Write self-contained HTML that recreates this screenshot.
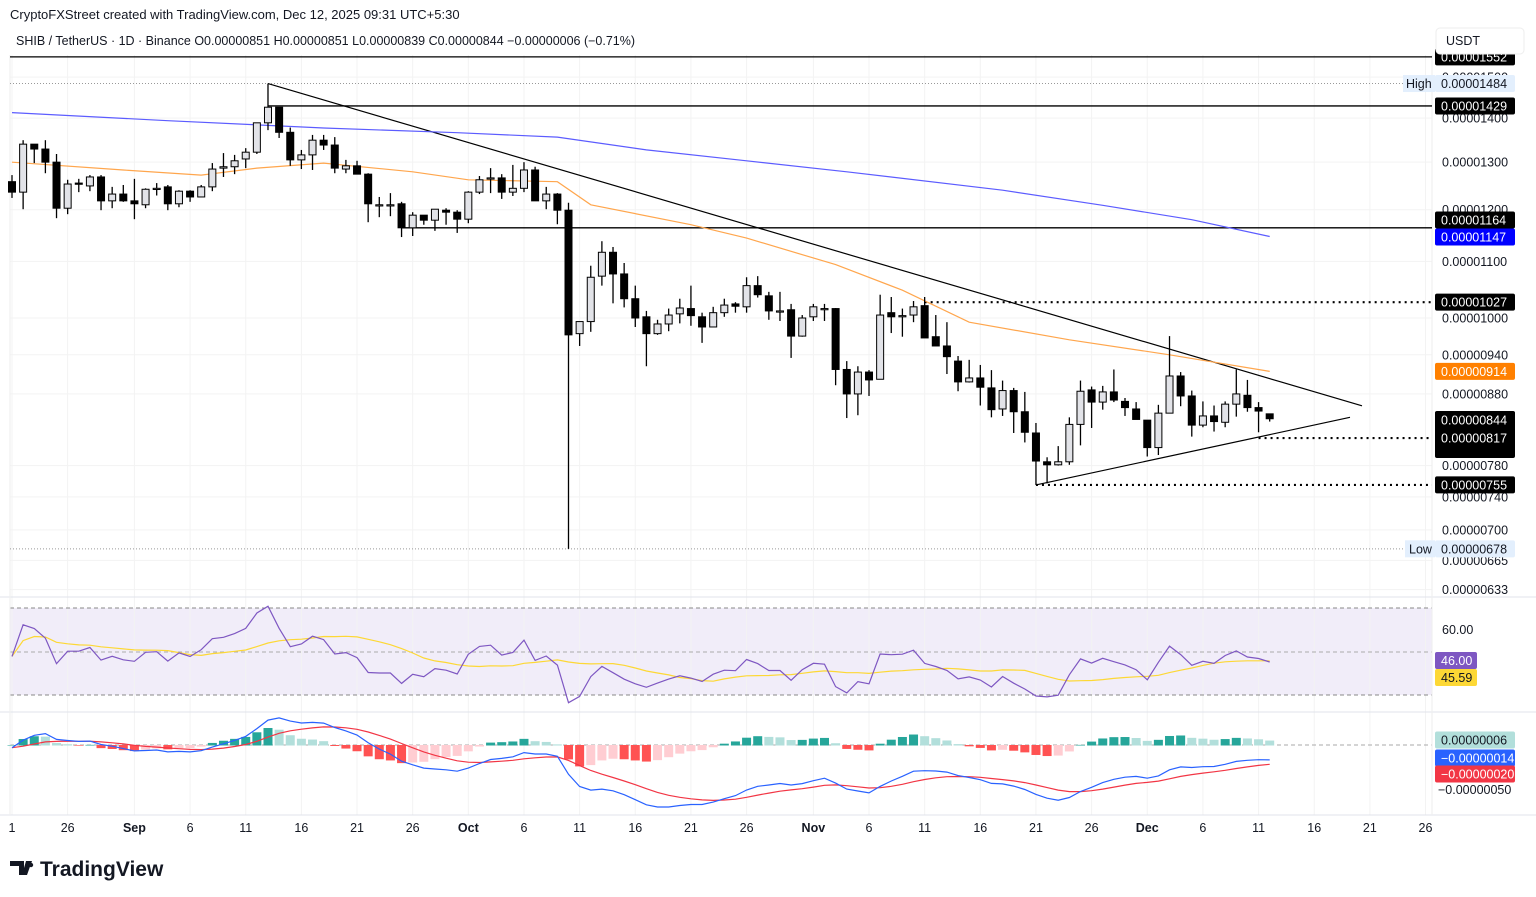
<!DOCTYPE html>
<html><head><meta charset="utf-8"><style>
html,body{margin:0;padding:0;background:#fff;width:1536px;height:897px;overflow:hidden;font-family:"Liberation Sans",sans-serif}
svg text{font-family:"Liberation Sans",sans-serif}
</style></head><body>
<svg id="chart" width="1536" height="897" xmlns="http://www.w3.org/2000/svg">
<text x="10" y="19" font-size="13" fill="#131722">CryptoFXStreet created with TradingView.com, Dec 12, 2025 09:31 UTC+5:30</text>
<text x="16" y="45" font-size="12.5" fill="#131722">SHIB / TetherUS · 1D · Binance  O<tspan>0.00000851</tspan> H<tspan>0.00000851</tspan> L<tspan>0.00000839</tspan> C<tspan>0.00000844</tspan> <tspan>−0.00000006 (−0.71%)</tspan></text>
<g id="grid"></g><g id="layers"></g><g id="marks"></g><g id="axis"></g>
<rect x="1436" y="28" width="88" height="26" rx="4" fill="#fff" stroke="#eee"/>
<text x="1446" y="45" font-size="12.5" fill="#131722">USDT</text>
<g>
<path d="M10 861h14v14h-5v-9h-9z M26 861h6l-5 14h-5z" fill="#131722"/>
<circle cx="31" cy="865" r="2.2" fill="#131722"/>
<text x="40" y="876" font-size="21" font-weight="bold" fill="#131722">TradingView</text>
</g>
</svg>
<script>
// price data in units of 1e-8 USDT, daily from Aug 21 2025
const opens=[1258,1236,1340,1329,1300,1203,1255,1249,1268,1218,1232,1218,1210,1244,1247,1212,1238,1226,1247,1287,1290,1307,1322,1389,1426,1367,1305,1316,1349,1338,1285,1292,1274,1210,1210,1212,1164,1189,1179,1199,1195,1181,1236,1266,1266,1236,1244,1283,1218,1232,1199,974,994,1073,1117,1077,1033,1002,974,990,1007,1016,1002,985,1009,1024,1019,1056,1038,1012,1014,970,1002,1016,1016,917,880,913,902,1009,1004,1005,1021,969,954,930,898,904,889,858,885,854,824,785,781,785,836,886,868,883,869,858,842,804,852,907,877,835,848,839,865,878,860,851];
const highs=[1272,1349,1340,1349,1318,1262,1264,1272,1272,1247,1251,1264,1244,1255,1251,1240,1240,1251,1298,1320,1316,1331,1389,1484,1426,1378,1327,1361,1361,1356,1305,1303,1276,1226,1234,1216,1195,1189,1201,1203,1199,1238,1270,1287,1274,1294,1300,1290,1247,1234,1214,994,1092,1138,1127,1097,1056,1012,997,1016,1033,1056,1009,1019,1033,1027,1071,1073,1045,1045,1024,1005,1024,1024,1017,930,922,916,1040,1036,1016,1029,1036,1005,993,938,932,924,916,900,889,883,838,791,806,846,900,891,892,917,874,868,842,864,970,913,885,869,863,869,917,901,868,851];
const lows=[1224,1201,1298,1276,1183,1191,1236,1238,1199,1203,1216,1181,1203,1229,1199,1205,1216,1226,1238,1268,1274,1287,1318,1372,1354,1292,1285,1283,1327,1276,1276,1274,1175,1185,1187,1146,1148,1170,1158,1170,1154,1173,1232,1234,1222,1228,1236,1218,1201,1171,678,954,977,1056,1025,1018,985,922,972,978,991,987,959,985,1002,1009,1009,1035,997,995,935,969,995,995,893,845,849,877,902,975,969,993,967,954,910,884,897,863,846,848,824,811,755,757,780,781,807,831,857,868,848,843,792,794,852,862,819,832,826,832,847,854,825,840];
const closes=[1236,1340,1329,1300,1203,1253,1253,1268,1218,1232,1218,1212,1242,1244,1212,1238,1226,1247,1285,1290,1303,1322,1389,1426,1367,1305,1316,1349,1338,1287,1292,1274,1212,1210,1210,1164,1189,1179,1201,1195,1181,1236,1262,1266,1236,1244,1283,1218,1232,1199,972,994,1071,1117,1077,1033,1000,974,990,1005,1017,1004,985,1009,1022,1020,1056,1040,1012,1012,970,1000,1019,1016,917,880,913,901,1005,1002,1004,1019,967,954,937,898,904,890,857,885,854,825,786,781,785,836,884,868,883,871,860,843,804,852,907,877,835,848,840,865,880,860,855,844];
// moving averages (sampled at candle index)
const maFastIdx=[0,10,17,22,28,36,41,49,52,61,66,74,80,86,95,104,113];
const maFastVal=[1300,1283,1272,1287,1298,1279,1262,1258,1210,1170,1144,1094,1048,993,964,940,914];
const maSlowIdx=[0,14,28,40,49,57,66,75,89,98,106,113];
const maSlowVal=[1413,1394,1377,1366,1356,1327,1303,1279,1240,1209,1180,1147];
const priceTicks=[1500,1400,1300,1200,1100,1000,940,880,780,740,700,665,633];
const dateLabels=["1","26","Sep","6","11","16","21","26","Oct","6","11","16","21","26","Nov","6","11","16","21","26","Dec","6","11","16","21","26"];
const dateIdx=[0,5,11,16,21,26,31,36,41,46,51,56,61,66,72,77,82,87,92,97,102,107,112,117,122,127];

const NS="http://www.w3.org/2000/svg";
const X=i=>12+11.13*i;
const Y=p=>318-594*Math.log(p/1000);
const RY=v=>652-(v-50)*2.18;
const MY=v=>745-v*0.9;
function mk(parent,tag,attrs){const e=document.createElementNS(NS,tag);for(const k in attrs)e.setAttribute(k,attrs[k]);document.getElementById(parent).appendChild(e);return e;}

// grid + panes
mk('grid','rect',{x:10,y:608,width:1422,height:87,fill:'#f1edf9'});
priceTicks.forEach(p=>{mk('grid','line',{x1:10,x2:1432,y1:Y(p),y2:Y(p),stroke:'#f3f3f3'});});
dateIdx.forEach(i=>{if(X(i)<1432)mk('grid','line',{x1:X(i),x2:X(i),y1:55,y2:815,stroke:'#f3f3f3'});});
[[608,'#888'],[652,'#aaa'],[695,'#888']].forEach(d=>mk('grid','line',{x1:10,x2:1432,y1:d[0],y2:d[0],stroke:d[1],'stroke-dasharray':'4,3'}));
mk('grid','line',{x1:10,x2:1432,y1:745,y2:745,stroke:'#aaa','stroke-dasharray':'4,3'});
mk('grid','line',{x1:0,x2:1536,y1:597,y2:597,stroke:'#e0e3eb'});
mk('grid','line',{x1:0,x2:1536,y1:712,y2:712,stroke:'#e0e3eb'});
mk('grid','line',{x1:0,x2:1536,y1:815,y2:815,stroke:'#e0e3eb'});
mk('grid','line',{x1:1432,x2:1432,y1:55,y2:815,stroke:'#eee'});
mk('grid','line',{x1:10,x2:10,y1:55,y2:815,stroke:'#eee'});

// horizontal levels
function hl(p,x1,dash,name){const l=mk('layers','line',{x1:x1,x2:1432,y1:Y(p),y2:Y(p),stroke:dash==='dot'?'#999':'#000','stroke-width':dash==='dot'?1:1.3,'stroke-dasharray':dash==='dot'?'1,2':(dash==='bdot'?'2,4':'none')});
if(dash==='bdot'){l.setAttribute('stroke','#000');l.setAttribute('stroke-width','2.2');}

}
hl(1552,10,'solid','level-1552');
hl(1484,10,'dot','high-line');
hl(1429,X(23),'solid','level-1429');
hl(1164,X(35),'solid','level-1164');
hl(1027,X(82),'bdot','level-1027');
hl(817,X(112),'bdot','level-817');
hl(755,X(92),'bdot','level-755');
hl(678,10,'dot','low-line');
// trend lines
let slope=(Math.log(906)-Math.log(1484))/(1263-X(23));
const dl=mk('layers','line',{x1:X(23),y1:Y(1484),x2:1362,y2:Y(1484*Math.exp(slope*(1362-X(23)))),stroke:'#000','stroke-width':1.2});


const ul=mk('layers','line',{x1:X(92),y1:Y(lows[92]),x2:1350,y2:Y(846),stroke:'#000','stroke-width':1.2});



// MAs
function poly(idx,val,color,name){let d='';idx.forEach((i,k)=>{d+=(k?'L':'M')+X(i).toFixed(1)+' '+Y(val[k]).toFixed(1);});const p=mk('layers','path',{d:d,fill:'none',stroke:color,'stroke-width':1.2});}
poly(maFastIdx,maFastVal,'#ffa64d','ma-fast');
poly(maSlowIdx,maSlowVal,'#5c5cff','ma-slow');

// candles
for(let i=0;i<closes.length;i++){
 const o=opens[i],c=closes[i],h=highs[i],l=lows[i],up=c>=o;
 const w=mk('marks','line',{x1:X(i),x2:X(i),y1:Y(h),y2:Y(l),stroke:'#000','stroke-width':1.3});
 
 
 const top=Y(Math.max(o,c)),bot=Y(Math.min(o,c));
 const b=mk('marks','rect',{x:X(i)-3.5,y:top,width:7,height:Math.max(1.2,bot-top),fill:up?'#e2e3e8':'#000',stroke:'#000','stroke-width':1});
 
 
}

// RSI computed from closes
const rsi=[];let ag=0,al=0;
for(let i=0;i<closes.length;i++){
 if(i===0){ag=12;al=12;rsi.push(48);continue;}
 const ch=closes[i]-closes[i-1];
 ag=(ag*13+Math.max(ch,0))/14;al=(al*13+Math.max(-ch,0))/14;
 rsi.push(100-100/(1+ag/al));
}
const rsiMa=rsi.map((v,i)=>{const s=rsi.slice(Math.max(0,i-13),i+1);return s.reduce((a,b)=>a+b,0)/s.length;});
function line(arr,fy,color,name){let d='';arr.forEach((v,i)=>{d+=(i?'L':'M')+X(i).toFixed(1)+' '+fy(v).toFixed(1);});const p=mk('marks','path',{d:d,fill:'none',stroke:color,'stroke-width':1.2});}
line(rsiMa,RY,'#fdd835','rsi-ma-line');
line(rsi,RY,'#7e57c2','rsi-line');

// MACD computed from closes
const ema=(arr,n)=>{const k=2/(n+1);const out=[];arr.forEach((v,i)=>out.push(i?v*k+out[i-1]*(1-k):v));return out;};
const e12=ema(closes,12),e26=ema(closes,26);
const macd=e12.map((v,i)=>v-e26[i]-3);
const sig=ema(macd,9);
const hist=macd.map((v,i)=>v-sig[i]);
hist.forEach((h,i)=>{const prev=i?hist[i-1]:0;let col=h>=0?(h>=prev?'#26a69a':'#b2dfdb'):(h<prev?'#ff5252':'#ffcdd2');
 const r=mk('marks','rect',{x:X(i)-4.5,y:Math.min(MY(h),745),width:9,height:Math.abs(MY(h)-745)+0.5,fill:col});
 
 });
line(sig,MY,'#f23645','macd-signal-line');
line(macd,MY,'#2962ff','macd-line');

// axis labels
priceTicks.forEach(p=>{const t=mk('axis','text',{x:1442,y:Y(p)+4.5,'font-size':12.5,fill:'#131722'});t.textContent='0.0000'+String(p).padStart(4,'0');});
dateLabels.forEach((s,k)=>{const bold=isNaN(+s);const t=mk('axis','text',{x:X(dateIdx[k]),y:832,'font-size':12.5,fill:'#131722','text-anchor':'middle','font-weight':bold?'bold':'normal'});t.textContent=s;});
function tag(y,txt,bg,fg,name,h){h=h||17;mk('axis','rect',{x:1435,y:y-h/2,width:80,height:h,rx:2,fill:bg});const t=mk('axis','text',{x:1441,y:y+4.5,'font-size':12.5,fill:fg});t.textContent=txt;return t;}
tag(Y(1552),'0.00001552','#000','#fff','tag-1552');
tag(Y(1484),'0.00001484','#e3effd','#131722','tag-high');
mk('axis','rect',{x:1403,y:Y(1484)-8.5,width:32,height:17,fill:'#e3effd'});
const hi=mk('axis','text',{x:1406,y:Y(1484)+4.5,'font-size':12.5,fill:'#131722'});hi.textContent='High';
tag(Y(1429),'0.00001429','#000','#fff','tag-1429');
tag(220,'0.00001164','#000','#fff','tag-1164');
tag(237,'0.00001147','#0000ff','#fff','tag-ma-slow');
tag(Y(1027),'0.00001027','#000','#fff','tag-1027');
tag(Y(914),'0.00000914','#ff8000','#fff','tag-ma-fast');
mk('axis','rect',{x:1435,y:411,width:80,height:47,rx:2,fill:'#000'});
tag(420,'0.00000844','#000','#fff','tag-last-price');
tag(434,'19:58:31','#000','#ccc','countdown');
tag(Y(817),'0.00000817','#000','#fff','tag-817');
tag(Y(755),'0.00000755','#000','#fff','tag-755');
mk('axis','rect',{x:1405,y:Y(678)-8.5,width:30,height:17,fill:'#e3effd'});
const lo=mk('axis','text',{x:1409,y:Y(678)+4.5,'font-size':12.5,fill:'#131722'});lo.textContent='Low';
tag(Y(678),'0.00000678','#e3effd','#131722','tag-low');
const r60=mk('axis','text',{x:1442,y:634,'font-size':12.5,fill:'#131722'});r60.textContent='60.00';
mk('axis','rect',{x:1435,y:652,width:42,height:17,rx:2,fill:'#7e57c2'});
const t46=mk('axis','text',{x:1441,y:665,'font-size':12.5,fill:'#fff'});t46.textContent='46.00';
mk('axis','rect',{x:1435,y:669,width:42,height:17,rx:2,fill:'#fdd835'});
const t45=mk('axis','text',{x:1441,y:682,'font-size':12.5,fill:'#131722'});t45.textContent='45.59';
tag(740,'0.00000006','#b2dfdb','#131722','tag-macd-hist');
tag(758,'−0.00000014','#2962ff','#fff','tag-macd');
tag(774,'−0.00000020','#f23645','#fff','tag-signal');
const m50=mk('axis','text',{x:1438,y:794,'font-size':12.5,fill:'#131722'});m50.textContent='−0.00000050';
</script>
</body></html>
